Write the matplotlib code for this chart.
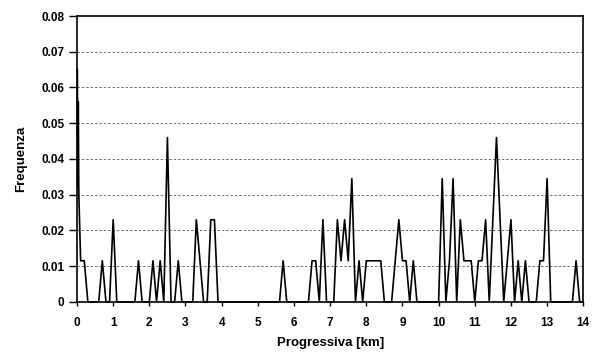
import matplotlib.pyplot as plt

plt.rcParams['font.family'] = ['Liberation Sans', 'DejaVu Sans']
plt.rcParams['font.weight'] = 'bold'

# progressiva [km] e frequenza
progressiva = [0.01, 0.02, 0.035, 0.05,
               0.1, 0.2, 0.3, 0.4, 0.5, 0.6, 0.7, 0.8, 0.9,
               1.0, 1.1, 1.2, 1.3, 1.4, 1.5, 1.6, 1.7, 1.8, 1.9,
               2.0, 2.1, 2.2, 2.3, 2.4, 2.5, 2.6, 2.7, 2.8, 2.9,
               3.0, 3.1, 3.2, 3.3, 3.4, 3.5, 3.6, 3.7, 3.8, 3.9,
               4.0, 4.1, 4.2, 4.3, 4.4, 4.5, 4.6, 4.7, 4.8, 4.9,
               5.0, 5.1, 5.2, 5.3, 5.4, 5.5, 5.6, 5.7, 5.8, 5.9,
               6.0, 6.1, 6.2, 6.3, 6.4, 6.5, 6.6, 6.7, 6.8, 6.9,
               7.0, 7.1, 7.2, 7.3, 7.4, 7.5, 7.6, 7.7, 7.8, 7.9,
               8.0, 8.1, 8.2, 8.3, 8.4, 8.5, 8.6, 8.7, 8.8, 8.9,
               9.0, 9.1, 9.2, 9.3, 9.4, 9.5, 9.6, 9.7, 9.8, 9.9,
               10.0, 10.1, 10.2, 10.3, 10.4, 10.5, 10.6, 10.7, 10.8, 10.9,
               11.0, 11.1, 11.2, 11.3, 11.4, 11.5, 11.6, 11.7, 11.8, 11.9,
               12.0, 12.1, 12.2, 12.3, 12.4, 12.5, 12.6, 12.7, 12.8, 12.9,
               13.0, 13.1, 13.2, 13.3, 13.4, 13.5, 13.6, 13.7, 13.8, 13.9,
               14.0]

frequenza = [0.065, 0.032, 0.056, 0.030,
             0.0115, 0.0115, 0, 0, 0, 0, 0.0115, 0, 0,
             0.023, 0, 0, 0, 0, 0, 0, 0.0115, 0, 0,
             0, 0.0115, 0, 0.0115, 0, 0.046, 0, 0, 0.0115, 0,
             0, 0, 0, 0.023, 0.0115, 0, 0, 0.023, 0.023, 0,
             0, 0, 0, 0, 0, 0, 0, 0, 0, 0,
             0, 0, 0, 0, 0, 0, 0, 0.0115, 0, 0,
             0, 0, 0, 0, 0, 0.0115, 0.0115, 0, 0.023, 0,
             0, 0, 0.023, 0.0115, 0.023, 0.0115, 0.0345, 0, 0.0115, 0,
             0.0115, 0.0115, 0.0115, 0.0115, 0.0115, 0, 0, 0, 0.0115, 0.023,
             0.0115, 0.0115, 0, 0.0115, 0, 0, 0, 0, 0, 0,
             0, 0.0345, 0, 0.0115, 0.0345, 0, 0.023, 0.0115, 0.0115, 0.0115,
             0, 0.0115, 0.0115, 0.023, 0, 0.023, 0.046, 0.023, 0, 0.0115,
             0.023, 0, 0.0115, 0, 0.0115, 0, 0, 0, 0.0115, 0.0115,
             0.0345, 0, 0, 0, 0, 0, 0, 0, 0.0115, 0,
             0]

yticks = [0, 0.01, 0.02, 0.03, 0.04, 0.05, 0.06, 0.07, 0.08]
ytick_labels = ['0', '0.01', '0.02', '0.03', '0.04', '0.05', '0.06', '0.07', '0.08']
xticks = list(range(0, 15))

fig = plt.figure(figsize=(5.97, 3.56), dpi=100)
ax = fig.add_axes([0.129, 0.152, 0.848, 0.803])

ax.plot(progressiva, frequenza, color='black', linewidth=1.2, zorder=3, clip_on=False)

ax.set_xlim(0, 14)
ax.set_ylim(0, 0.08)
ax.set_xticks(xticks)
ax.set_xticklabels([str(t) for t in xticks])
ax.set_yticks(yticks)
ax.set_yticklabels(ytick_labels)
ax.tick_params(axis='x', labelsize=8.5, direction='out', length=3, width=1, pad=8)
ax.tick_params(axis='y', labelsize=8.5, direction='out', length=6, width=1, pad=3)

for v in yticks[1:-1]:
    ax.axhline(v, color='#707070', linestyle=(0, (2.5, 2)), linewidth=0.7, zorder=0)

for s in ax.spines.values():
    s.set_linewidth(1.2)

ax.set_xlabel('Progressiva [km]', fontsize=9.5, fontweight='bold', labelpad=6)
ax.set_ylabel('Frequenza', fontsize=9.5, fontweight='bold', labelpad=10)

fig.savefig('out.png', dpi=100)
